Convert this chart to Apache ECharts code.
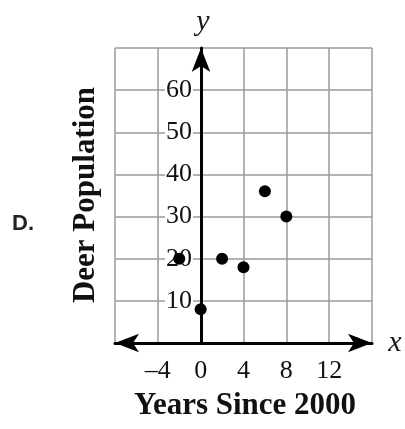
<!DOCTYPE html>
<html>
<head>
<meta charset="utf-8">
<script src="https://cdn.jsdelivr.net/npm/echarts@6/dist/echarts.min.js"></script>
<style>html,body{margin:0;padding:0;background:#fff;}#c{width:405px;height:429px;}</style>
</head>
<body>
<div id="c"></div>
<script>
const yearsSince2000 = [-2, 0, 2, 4, 6, 8];
const deerPopulation = [20, 8, 20, 18, 36, 30];
const xTickLabels = {'-4': '\u20134', '0': '0', '4': '4', '8': '8', '12': '12'};
const yTickLabels = {'10': '10', '20': '20', '30': '30', '40': '40', '50': '50', '60': '60'};
const xTitle = 'Years Since 2000';
const yTitle = 'Deer Population';
const optionLabel = 'D.';

const points = yearsSince2000.map((x, i) => [x, deerPopulation[i]]);
const serif = '"Liberation Serif", "Times New Roman", serif';

const chart = echarts.init(document.getElementById('c'), null, {renderer: 'canvas'});
chart.setOption({
  animation: false,
  backgroundColor: '#fff',
  grid: {left: 115, right: 33, top: 48, bottom: 86, containLabel: false},
  xAxis: {
    type: 'value', min: -8, max: 16, interval: 4,
    axisLine: {onZero: false, lineStyle: {color: '#000', width: 3}, symbol: ['arrow', 'arrow'], symbolSize: [14, 24]},
    axisTick: {show: false},
    splitLine: {show: true, lineStyle: {color: '#9a9a9a', width: 1.5}},
    axisLabel: {
      margin: 15, color: '#111', fontFamily: serif, fontSize: 26,
      formatter: v => xTickLabels[String(v)] || ''
    }
  },
  yAxis: {
    type: 'value', min: 0, max: 70, interval: 10, offset: -86,
    axisLine: {onZero: false, lineStyle: {color: '#000', width: 3}, symbol: ['none', 'arrow'], symbolSize: [14, 24]},
    axisTick: {show: false},
    splitLine: {show: true, lineStyle: {color: '#9a9a9a', width: 1.5}},
    axisLabel: {
      margin: 8, color: '#111', fontFamily: serif, fontSize: 26,
      backgroundColor: '#fff', padding: [0, 1, 0, 1],
      formatter: v => yTickLabels[String(v)] || ''
    }
  },
  series: [{
    type: 'scatter', data: points, symbolSize: 12,
    itemStyle: {color: '#000', opacity: 1}, z: 5
  }],
  graphic: [
    {type: 'text', x: 203, y: 22, style: {text: 'y', font: 'italic 30px ' + serif, fill: '#1a1a1a', align: 'center', verticalAlign: 'middle'}},
    {type: 'text', x: 395, y: 343, style: {text: 'x', font: 'italic 30px ' + serif, fill: '#1a1a1a', align: 'center', verticalAlign: 'middle'}},
    {type: 'text', x: 86, y: 195, rotation: Math.PI / 2,
      style: {text: yTitle, font: 'bold 31px ' + serif, fill: '#111', align: 'center', verticalAlign: 'middle'}},
    {type: 'text', x: 245, y: 406,
      style: {text: xTitle, font: 'bold 31px ' + serif, fill: '#111', align: 'center', verticalAlign: 'middle'}},
    {type: 'text', x: 23, y: 224,
      style: {text: optionLabel, font: 'bold 22px "Liberation Sans", Arial, sans-serif', fill: '#222', align: 'center', verticalAlign: 'middle'}}
  ]
});
</script>
</body>
</html>
